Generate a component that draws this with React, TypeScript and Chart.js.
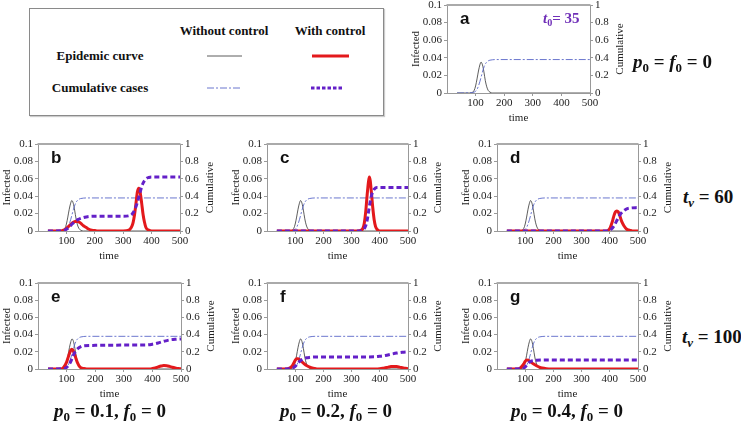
import React, { useEffect, useRef } from 'react';
import { Chart, registerables } from 'chart.js';
Chart.register(...registerables);

// ---- tick labels ----
const xTickValues = [100, 200, 300, 400, 500];
const leftTickValues = [0, 0.02, 0.04, 0.06, 0.08, 0.1];
const leftTickLabels = ['0', '0.02', '0.04', '0.06', '0.08', '0.1'];
const rightTickValues = [0, 0.2, 0.4, 0.6, 0.8, 1];
const rightTickLabels = ['0', '0.2', '0.4', '0.6', '0.8', '1'];

// ---- without control (same in all panels) ----
const baseInfT = [35, 80, 90, 95, 100, 105, 110, 115, 119, 124, 129, 134, 139, 144, 150, 160, 500];
const baseInfV = [0, 0, 0.001, 0.003, 0.008, 0.016, 0.025, 0.032, 0.035, 0.032, 0.024, 0.014, 0.007, 0.003, 0.001, 0, 0];
const baseCumT = [35, 90, 100, 105, 110, 115, 120, 125, 130, 135, 140, 145, 150, 160, 170, 500];
const baseCumV = [0, 0.005, 0.02, 0.04, 0.08, 0.13, 0.19, 0.25, 0.3, 0.335, 0.355, 0.367, 0.373, 0.378, 0.38, 0.38];

// ---- panel b ----
const bInfT = [35, 80, 90, 100, 110, 120, 130, 140, 150, 160, 170, 180, 190, 200, 210, 300, 320, 330, 335, 340, 345, 350, 355, 360, 365, 370, 375, 380, 390, 400, 500];
const bInfV = [0, 0, 0.001, 0.003, 0.006, 0.009, 0.011, 0.011, 0.009, 0.006, 0.004, 0.002, 0.001, 0.0005, 0, 0, 0.001, 0.005, 0.01, 0.019, 0.032, 0.045, 0.049, 0.044, 0.032, 0.019, 0.01, 0.004, 0.001, 0, 0];
const bCumT = [35, 90, 100, 110, 120, 130, 140, 150, 160, 170, 180, 200, 300, 320, 330, 340, 350, 355, 360, 365, 370, 380, 390, 400, 500];
const bCumV = [0, 0.005, 0.02, 0.045, 0.08, 0.11, 0.13, 0.145, 0.155, 0.162, 0.167, 0.17, 0.17, 0.175, 0.19, 0.24, 0.33, 0.39, 0.45, 0.51, 0.55, 0.6, 0.615, 0.62, 0.62];

// ---- panel c ----
const cInfT = [35, 320, 335, 340, 345, 350, 355, 360, 363, 366, 370, 375, 380, 385, 390, 400, 500];
const cInfV = [0, 0, 0.001, 0.003, 0.009, 0.022, 0.041, 0.057, 0.062, 0.058, 0.045, 0.027, 0.013, 0.005, 0.002, 0, 0];
const cCumT = [35, 330, 340, 350, 355, 360, 365, 370, 375, 380, 390, 400, 500];
const cCumV = [0, 0, 0.01, 0.06, 0.12, 0.22, 0.32, 0.4, 0.45, 0.48, 0.5, 0.5, 0.5];

// ---- panel d ----
const dInfT = [35, 385, 395, 400, 405, 410, 415, 420, 425, 430, 435, 440, 445, 450, 460, 470, 480, 500];
const dInfV = [0, 0, 0.001, 0.003, 0.007, 0.012, 0.018, 0.022, 0.023, 0.022, 0.018, 0.013, 0.009, 0.006, 0.002, 0.001, 0, 0];
const dCumT = [35, 395, 405, 415, 425, 435, 445, 455, 465, 475, 500];
const dCumV = [0, 0, 0.02, 0.06, 0.12, 0.18, 0.22, 0.245, 0.26, 0.265, 0.27];

// ---- panel e ----
const eInfT = [35, 80, 90, 100, 105, 110, 115, 118, 122, 126, 130, 135, 140, 145, 150, 160, 170, 390, 400, 410, 420, 430, 440, 450, 460, 470, 480, 490, 500];
const eInfV = [0, 0, 0.002, 0.008, 0.013, 0.018, 0.022, 0.023, 0.022, 0.019, 0.015, 0.01, 0.006, 0.003, 0.0015, 0.0005, 0, 0, 0.0005, 0.0013, 0.0024, 0.0034, 0.004, 0.0038, 0.003, 0.002, 0.0012, 0.0005, 0.0002];
const eCumT = [35, 90, 100, 110, 115, 120, 125, 130, 140, 150, 160, 200, 300, 380, 400, 420, 440, 460, 480, 500];
const eCumV = [0, 0.003, 0.02, 0.06, 0.09, 0.13, 0.17, 0.2, 0.24, 0.26, 0.27, 0.275, 0.278, 0.28, 0.288, 0.303, 0.322, 0.338, 0.346, 0.35];

// ---- panel f ----
const fInfT = [35, 70, 80, 90, 95, 100, 105, 110, 115, 120, 130, 140, 150, 160, 170, 180, 390, 400, 410, 420, 430, 440, 450, 460, 470, 480, 490, 500];
const fInfV = [0, 0, 0.001, 0.004, 0.007, 0.01, 0.012, 0.012, 0.011, 0.0095, 0.0065, 0.004, 0.0025, 0.0012, 0.0005, 0, 0, 0.0003, 0.0008, 0.0015, 0.0022, 0.0028, 0.003, 0.0028, 0.0022, 0.0015, 0.0008, 0.0004];
const fCumT = [35, 80, 90, 100, 110, 120, 130, 140, 150, 170, 200, 300, 380, 400, 420, 440, 460, 480, 500];
const fCumV = [0, 0.002, 0.01, 0.03, 0.07, 0.1, 0.12, 0.13, 0.135, 0.14, 0.14, 0.14, 0.142, 0.148, 0.158, 0.172, 0.185, 0.195, 0.2];

// ---- panel g ----
const gInfT = [35, 75, 85, 95, 100, 105, 110, 115, 120, 130, 140, 150, 160, 175, 190, 500];
const gInfV = [0, 0, 0.002, 0.006, 0.009, 0.0105, 0.0102, 0.0092, 0.008, 0.0058, 0.0038, 0.0022, 0.0012, 0.0004, 0, 0];
const gCumT = [35, 85, 95, 100, 105, 110, 115, 120, 130, 140, 160, 200, 500];
const gCumV = [0, 0.002, 0.01, 0.025, 0.045, 0.065, 0.08, 0.09, 0.098, 0.102, 0.104, 0.105, 0.105];

const SERIF = '"Liberation Serif", "DejaVu Serif", serif';
const SANS = '"Liberation Sans", Arial, sans-serif';
const RED = '#e3191c';
const PURPLE = '#6420c8';
const BLUE = '#5a68c8';
const BLACK = '#333333';

const pts = (t: number[], v: number[]) => t.map((x, i) => ({ x, y: v[i] }));

const framePlugin = {
  id: 'frame',
  afterDraw(chart: any) {
    const { ctx, chartArea } = chart;
    const { left, right, top, bottom } = chartArea;
    ctx.save();
    ctx.strokeStyle = '#aaaaaa';
    ctx.lineWidth = 2;
    ctx.beginPath();
    ctx.moveTo(left - 0.5, top);
    ctx.lineTo(right + 0.5, top);
    ctx.stroke();
    ctx.translate(right + 30, (top + bottom) / 2);
    ctx.rotate(-Math.PI / 2);
    ctx.fillStyle = '#222';
    ctx.font = '11px ' + SERIF;
    ctx.textAlign = 'center';
    ctx.textBaseline = 'middle';
    ctx.fillText('Cumulative', 0, 0);
    ctx.restore();
  },
};

type PanelProps = {
  left: number; top: number; w: number; h: number; label: string;
  inf?: [number[], number[]]; cum?: [number[], number[]];
};

function Panel({ left, top, w, h, label, inf, cum }: PanelProps) {
  const ref = useRef<HTMLCanvasElement | null>(null);
  const PL = 38, PR = 38, PT = 14, PB = 34;
  const cw = w + PL + PR, ch = h + PT + PB;
  useEffect(() => {
    if (!ref.current) return;
    const font = { family: SERIF, size: 11 };
    const datasets: any[] = [];
    if (cum) datasets.push({ data: pts(cum[0], cum[1]), yAxisID: 'y2', borderColor: PURPLE, borderWidth: 3, borderDash: [5, 3], pointRadius: 0, cubicInterpolationMode: 'monotone' });
    if (inf) datasets.push({ data: pts(inf[0], inf[1]), yAxisID: 'y', borderColor: RED, borderWidth: 3, pointRadius: 0, cubicInterpolationMode: 'monotone' });
    datasets.push({ data: pts(baseCumT, baseCumV), yAxisID: 'y2', borderColor: BLUE, borderWidth: 0.9, borderDash: [7, 2, 2, 2], pointRadius: 0, cubicInterpolationMode: 'monotone' });
    datasets.push({ data: pts(baseInfT, baseInfV), yAxisID: 'y', borderColor: BLACK, borderWidth: 0.8, pointRadius: 0, cubicInterpolationMode: 'monotone' });
    const chart = new Chart(ref.current, {
      type: 'line',
      data: { datasets },
      plugins: [framePlugin],
      options: {
        animation: false,
        responsive: false,
        events: [],
        layout: { padding: { top: PT, left: 0, right: 0, bottom: 0 } },
        plugins: { legend: { display: false }, tooltip: { enabled: false } },
        scales: {
          x: {
            type: 'linear', min: 0, max: 500,
            afterBuildTicks: (s: any) => { s.ticks = xTickValues.map((value) => ({ value })); },
            afterFit: (s: any) => { s.height = PB; },
            ticks: { font, color: '#222', maxRotation: 0, autoSkip: false, padding: 1 },
            grid: { drawOnChartArea: false, tickLength: 3, color: '#999' },
            border: { color: '#999' },
            title: { display: true, text: 'time', font, color: '#222', padding: { top: 0, bottom: 2 } },
          },
          y: {
            position: 'left', min: 0, max: 0.1,
            afterBuildTicks: (s: any) => { s.ticks = leftTickValues.map((value) => ({ value })); },
            afterFit: (s: any) => { s.width = PL; },
            ticks: { font, color: '#222', padding: 2, callback: (v: any) => leftTickLabels[leftTickValues.indexOf(v)] },
            grid: { drawOnChartArea: false, tickLength: 3, color: '#999' },
            border: { color: '#999' },
            title: { display: true, text: 'Infected', font, color: '#222', padding: { top: 1, bottom: 0 } },
          },
          y2: {
            position: 'right', min: 0, max: 1,
            afterBuildTicks: (s: any) => { s.ticks = rightTickValues.map((value) => ({ value })); },
            afterFit: (s: any) => { s.width = PR; },
            ticks: { font, color: '#222', padding: 2, callback: (v: any) => rightTickLabels[rightTickValues.indexOf(v)] },
            grid: { drawOnChartArea: false, tickLength: 3, color: '#999' },
            border: { color: '#999' },
          },
        },
      } as any,
    });
    return () => chart.destroy();
  }, []);
  return (
    <>
      <canvas ref={ref} width={cw} height={ch}
        style={{ position: 'absolute', left: left - PL, top: top - PT, width: cw, height: ch }} />
      <div style={{ position: 'absolute', left: left + 13, top: top + 5, font: `bold 17px ${SANS}`, lineHeight: '18px', color: '#111' }}>{label}</div>
    </>
  );
}

const sub = (s: string, italic = false) => (
  <span style={{ fontSize: '0.68em', verticalAlign: '-0.3em', fontStyle: italic ? 'italic' : 'normal' }}>{s}</span>
);

const bigText: React.CSSProperties = { position: 'absolute', font: `bold 19px ${SERIF}`, color: '#111', whiteSpace: 'pre', lineHeight: '24px' };

function PLabel({ cx, p }: { cx: number; p: string }) {
  return (
    <div style={{ ...bigText, left: cx - 100, width: 200, top: 399, textAlign: 'center' }}>
      <i>p</i>{sub('0')}{' = ' + p + ', '}<i>f</i>{sub('0')}{' = 0'}
    </div>
  );
}

const legText: React.CSSProperties = { position: 'absolute', font: `bold 13px ${SERIF}`, color: '#111', whiteSpace: 'pre', lineHeight: '16px', textAlign: 'center', width: 160 };

export default function App() {
  return (
    <div style={{ position: 'fixed', left: 0, top: 0, width: 741, height: 424, background: '#fff', overflow: 'hidden' }}>
      {/* legend box */}
      <div style={{ position: 'absolute', left: 29, top: 8, width: 353, height: 106, border: '1px solid #8a8a8a', boxShadow: '1px 1px 1px #ccc' }} />
      <div style={{ ...legText, left: 224 - 80, top: 23 }}>Without control</div>
      <div style={{ ...legText, left: 330 - 80, top: 23 }}>With control</div>
      <div style={{ ...legText, left: 100 - 80, top: 48 }}>Epidemic curve</div>
      <div style={{ ...legText, left: 100 - 80, top: 80 }}>Cumulative cases</div>
      <svg style={{ position: 'absolute', left: 0, top: 0 }} width={741} height={130}>
        <line x1={207} y1={56} x2={242} y2={56} stroke={BLACK} strokeWidth={0.8} />
        <line x1={312} y1={56} x2={349} y2={56} stroke={RED} strokeWidth={3} />
        <line x1={207} y1={88} x2={242} y2={88} stroke={BLUE} strokeWidth={0.9} strokeDasharray="7 2 2 2" />
        <line x1={311} y1={88} x2={344} y2={88} stroke={PURPLE} strokeWidth={3} strokeDasharray="3.5 2" />
      </svg>

      <Panel left={447} top={5} w={143} h={88} label="a" />
      <div style={{ position: 'absolute', left: 543, top: 8, font: `bold 15px ${SERIF}`, color: '#7030b8', whiteSpace: 'pre', lineHeight: '20px' }}>
        <i>t</i>{sub('0')}{'= 35'}
      </div>
      <div style={{ ...bigText, left: 633, top: 50 }}>
        <i>p</i>{sub('0')}{' = '}<i>f</i>{sub('0')}{' = 0'}
      </div>

      <Panel left={38} top={144} w={142} h={87} label="b" inf={[bInfT, bInfV]} cum={[bCumT, bCumV]} />
      <Panel left={267} top={144} w={141} h={87} label="c" inf={[cInfT, cInfV]} cum={[cCumT, cCumV]} />
      <Panel left={497} top={144} w={141} h={87} label="d" inf={[dInfT, dInfV]} cum={[dCumT, dCumV]} />
      <div style={{ ...bigText, left: 683, top: 185 }}>
        <i>t</i>{sub('v', true)}{' = 60'}
      </div>

      <Panel left={38} top={283} w={143} h={86} label="e" inf={[eInfT, eInfV]} cum={[eCumT, eCumV]} />
      <Panel left={267} top={283} w={141} h={86} label="f" inf={[fInfT, fInfV]} cum={[fCumT, fCumV]} />
      <Panel left={497} top={283} w={141} h={86} label="g" inf={[gInfT, gInfV]} cum={[gCumT, gCumV]} />
      <div style={{ ...bigText, left: 682, top: 325 }}>
        <i>t</i>{sub('v', true)}{' = 100'}
      </div>

      <PLabel cx={110} p="0.1" />
      <PLabel cx={336} p="0.2" />
      <PLabel cx={567} p="0.4" />
    </div>
  );
}
